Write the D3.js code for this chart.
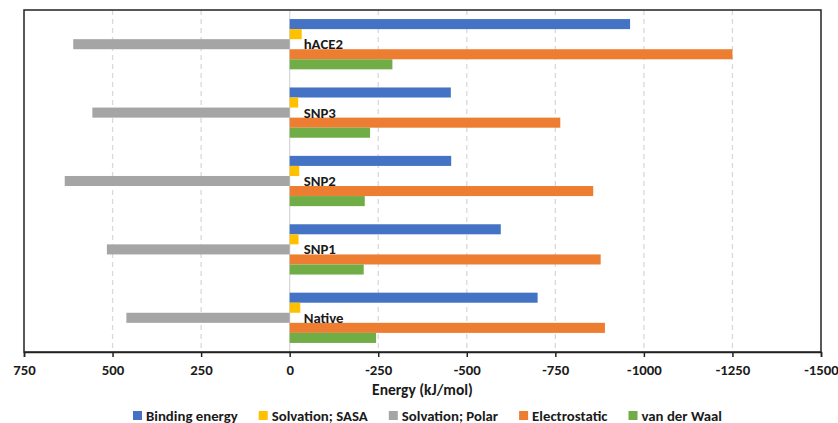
<!DOCTYPE html>
<html>
<head>
<meta charset="utf-8">
<script src="https://cdn.jsdelivr.net/npm/d3@7"></script>
<style>
  body { margin: 0; background: #fff; }
  svg text { font-family: Carlito, Lato, "Open Sans", sans-serif; font-weight: bold; fill: #1a1a1a; }
</style>
</head>
<body>
<div id="chart"></div>
<script>
// categories, top to bottom
const categories = ['hACE2', 'SNP3', 'SNP2', 'SNP1', 'Native']

const seriesNames = ['Binding energy', 'Solvation; SASA', 'Solvation; Polar', 'Electrostatic', 'van der Waal']
const seriesColors = ['#4472C4', '#FFC000', '#A5A5A5', '#ED7D31', '#70AD47']

// values in kJ/mol, same order as categories
const bindingEnergy = [-961, -455, -456, -596, -700]
const solvationSASA = [-34, -24, -27, -25, -30]
const solvationPolar = [611, 557, 635, 516, 461]
const electrostatic = [-1250, -764, -857, -878, -890]
const vanDerWaal = [-290, -227, -212, -209, -244]

const xTicks = [750, 500, 250, 0, -250, -500, -750, -1000, -1250, -1500]

const seriesValues = [bindingEnergy, solvationSASA, solvationPolar, electrostatic, vanDerWaal]

const width = 838, height = 423
const plot = {left: 24, right: 821, top: 10, bottom: 352}
const fs = 14.8

let svg = d3.select('#chart').append('svg')
  .attr('width', width)
  .attr('height', height)

let x = d3.scaleLinear()
  .domain([750, -1500])
  .range([plot.left, plot.right])

let y = d3.scaleBand()
  .domain(categories)
  .range([plot.top, plot.bottom])

let bw = y.bandwidth()
let groupH = bw * 0.735
let yInner = d3.scaleBand()
  .domain(seriesNames)
  .range([(bw - groupH) / 2, (bw + groupH) / 2])

// gridlines
let gridGroup = svg.append('g')
gridGroup.selectAll('line')
  .data(xTicks.filter(t => t !== 750 && t !== -1500))
  .enter()
  .append('line')
  .attr('x1', d => x(d)).attr('x2', d => x(d))
  .attr('y1', plot.top).attr('y2', plot.bottom)
  .attr('stroke', '#d9d9d9')
  .attr('stroke-width', 1.3)
  .attr('stroke-dasharray', d => d === 0 ? null : '5,4')

// bars
let barsGroup = svg.append('g')
categories.forEach((cat, ci) => {
  let g = barsGroup.append('g').attr('transform', `translate(0,${y(cat)})`)
  g.selectAll('rect')
    .data(seriesNames.map((s, si) => ({s: s, v: seriesValues[si][ci], c: seriesColors[si]})))
    .enter()
    .append('rect')
    .attr('x', d => Math.min(x(0), x(d.v)))
    .attr('width', d => Math.abs(x(d.v) - x(0)))
    .attr('y', d => yInner(d.s))
    .attr('height', yInner.bandwidth())
    .attr('fill', d => d.c)
})

// category labels next to the zero line
svg.append('g').selectAll('text')
  .data(categories)
  .enter()
  .append('text')
  .attr('x', x(0) + 14)
  .attr('y', d => y(d) + bw / 2 + 5)
  .attr('font-size', fs)
  .text(d => d)

// plot frame
svg.append('rect')
  .attr('x', plot.left).attr('y', plot.top)
  .attr('width', plot.right - plot.left)
  .attr('height', plot.bottom - plot.top)
  .attr('fill', 'none')
  .attr('stroke', '#222')
  .attr('stroke-width', 1.5)

// x axis
let xAxis = svg.append('g')
  .attr('transform', `translate(0,${plot.bottom})`)
  .call(d3.axisBottom(x).tickValues(xTicks).tickSize(5).tickPadding(7).tickFormat(d3.format('d')))
xAxis.select('.domain').attr('stroke', '#222').attr('stroke-width', 1.5)
xAxis.selectAll('.tick line').attr('stroke', '#222').attr('stroke-width', 1.5)
xAxis.selectAll('.tick text')
  .attr('font-size', fs)
  .attr('font-family', 'Carlito, Lato, "Open Sans", sans-serif')
  .attr('fill', '#1a1a1a')
  .text(d => d === 0 ? '0' : String(d).replace('\u2212', '-'))

svg.append('text')
  .attr('x', (plot.left + plot.right) / 2)
  .attr('y', 395)
  .attr('text-anchor', 'middle')
  .attr('font-size', 15.5)
  .text('Energy (kJ/mol)')

// legend
let legend = svg.append('g')
let lx = 133
seriesNames.forEach((s, i) => {
  legend.append('rect')
    .attr('x', lx).attr('y', 411)
    .attr('width', 9).attr('height', 9)
    .attr('fill', seriesColors[i])
  let t = legend.append('text')
    .attr('x', lx + 13)
    .attr('y', 420.5)
    .attr('font-size', fs)
    .text(s)
  lx += 13 + t.node().getComputedTextLength() + 21
})
</script>
</body>
</html>
